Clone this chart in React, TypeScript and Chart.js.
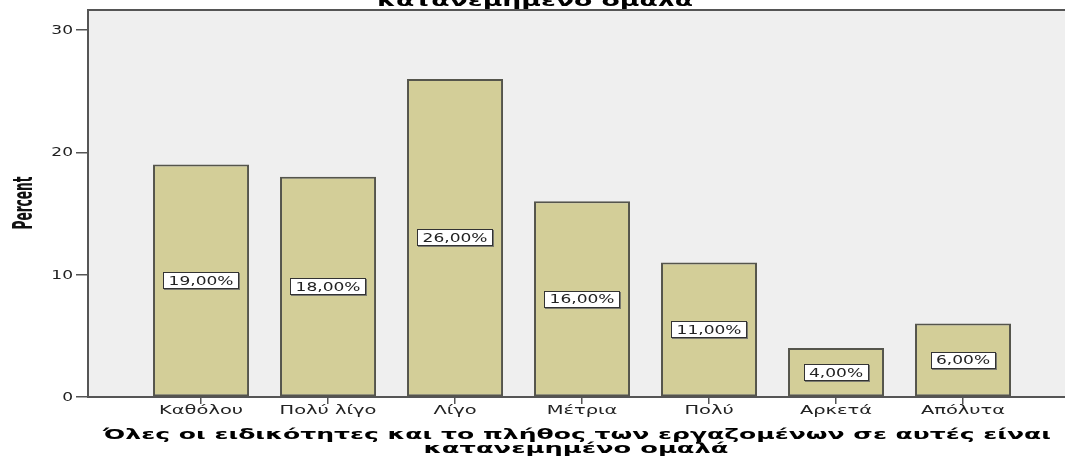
import React, { useEffect, useRef } from "react";
import { Chart, registerables } from "chart.js";

Chart.register(...registerables);

const categories = ["Καθόλου", "Πολύ λίγο", "Λίγο", "Μέτρια", "Πολύ", "Αρκετά", "Απόλυτα"];
const percentValues = [19, 18, 26, 16, 11, 4, 6];
const yTickValues = [0, 10, 20, 30];
const yAxisTitle = "Percent";
const xAxisTitleLines = [
  "Όλες οι ειδικότητες και το πλήθος των εργαζομένων σε αυτές είναι",
  "κατανεμημένο ομαλά",
];
const topTitleTail = "κατανεμημένο ομαλά";

const TEXT_SX = 1.42;
const XTICK_SX = 1.62;
const TICK_FONT = '12px "DejaVu Sans", sans-serif';
const TITLE_FONT = 'bold 14px "DejaVu Sans", sans-serif';

function drawScaled(
  ctx: CanvasRenderingContext2D,
  text: string,
  x: number,
  y: number,
  font: string,
  sx: number,
  align: CanvasTextAlign,
  baseline: CanvasTextBaseline,
  color: string,
  sy: number = 1
) {
  ctx.save();
  ctx.font = font;
  ctx.fillStyle = color;
  ctx.textAlign = align;
  ctx.textBaseline = baseline;
  ctx.translate(x, y);
  ctx.scale(sx, sy);
  ctx.fillText(text, 0, 0);
  ctx.restore();
}

function drawFitted(
  ctx: CanvasRenderingContext2D,
  text: string,
  cx: number,
  y: number,
  font: string,
  width: number,
  color: string,
  sy: number = 1
) {
  ctx.save();
  ctx.font = font;
  const w = ctx.measureText(text).width;
  ctx.restore();
  drawScaled(ctx, text, cx, y, font, width / w, "center", "alphabetic", color, sy);
}

const formatPct = (v: number) => v.toFixed(2).replace(".", ",") + "%";

const decorPlugin = {
  id: "decor",
  beforeDraw(chart: any) {
    const { ctx, chartArea } = chart;
    ctx.save();
    ctx.fillStyle = "#efefef";
    ctx.fillRect(chartArea.left, chartArea.top, chartArea.right - chartArea.left, chartArea.bottom - chartArea.top);
    ctx.restore();
  },
  afterDatasetsDraw(chart: any) {
    const { ctx } = chart;
    const meta = chart.getDatasetMeta(0);
    const yScale = chart.scales.y;
    meta.data.forEach((bar: any, i: number) => {
      const v = percentValues[i];
      const label = formatPct(v);
      const cy = yScale.getPixelForValue(v / 2);
      const cx = bar.x;
      ctx.save();
      ctx.font = TICK_FONT;
      const tw = ctx.measureText(label).width * TEXT_SX;
      const bw = Math.round(tw + 11);
      const bh = 17;
      const bx = Math.round(cx - bw / 2);
      const by = Math.round(cy - bh / 2);
      ctx.fillStyle = "#7a7a70";
      ctx.fillRect(bx + 1, by + 1, bw, bh);
      ctx.fillStyle = "#ffffff";
      ctx.fillRect(bx, by, bw, bh);
      ctx.strokeStyle = "#333333";
      ctx.lineWidth = 1;
      ctx.strokeRect(bx + 0.5, by + 0.5, bw - 1, bh - 1);
      ctx.restore();
      drawScaled(ctx, label, cx, cy + 1, TICK_FONT, TEXT_SX, "center", "middle", "#222222");
    });
  },
  afterDraw(chart: any) {
    const { ctx, chartArea } = chart;
    const xScale = chart.scales.x;
    const yScale = chart.scales.y;
    // top frame line
    ctx.save();
    ctx.strokeStyle = "#555555";
    ctx.lineWidth = 2;
    ctx.beginPath();
    ctx.moveTo(chartArea.left, chartArea.top);
    ctx.lineTo(chartArea.right, chartArea.top);
    ctx.stroke();
    ctx.restore();
    // x tick labels
    categories.forEach((c, i) => {
      drawScaled(ctx, c, xScale.getPixelForValue(i), 414, TICK_FONT, XTICK_SX, "center", "alphabetic", "#222222");
    });
    // y tick labels
    yTickValues.forEach((v) => {
      drawScaled(ctx, String(v), 73, yScale.getPixelForValue(v) + 1, TICK_FONT, TEXT_SX, "right", "middle", "#222222");
    });
    // y axis title (rotated)
    ctx.save();
    ctx.translate(32, 203);
    ctx.rotate(-Math.PI / 2);
    drawFitted(ctx, yAxisTitle, 0, 0, 'bold 19px "Liberation Sans Narrow", "DejaVu Sans Condensed", sans-serif', 53, "#111111", 1.4);
    ctx.restore();
    // x axis title
    drawFitted(ctx, xAxisTitleLines[0], 577, 439, TITLE_FONT, 948, "#000000");
    drawFitted(ctx, xAxisTitleLines[1], 576, 453, TITLE_FONT, 305, "#000000");
    // cut-off chart title at top
    drawFitted(ctx, topTitleTail, 535, 6, 'bold 15px "DejaVu Sans", sans-serif', 316, "#000000");
  },
};

export default function App() {
  const canvasRef = useRef<HTMLCanvasElement | null>(null);

  useEffect(() => {
    const canvas = canvasRef.current;
    if (!canvas) return;
    const chart = new Chart(canvas, {
      type: "bar",
      data: {
        datasets: [
          {
            data: percentValues.map((v, i) => ({ x: i, y: v })),
            backgroundColor: "#d3ce98",
            borderColor: "#55554c",
            borderWidth: 2,
            borderSkipped: false,
            barPercentage: 0.756,
            categoryPercentage: 1,
          },
        ],
      },
      options: {
        responsive: false,
        animation: false,
        events: [],
        layout: { padding: { top: 10, left: 0, right: 0, bottom: 0 } },
        plugins: {
          legend: { display: false },
          title: { display: false },
          tooltip: { enabled: false },
        },
        scales: {
          x: {
            type: "linear",
            min: -0.89,
            max: 6.803,
            offset: false,
            afterBuildTicks: (scale: any) => {
              scale.ticks = categories.map((_, i) => ({ value: i }));
            },
            afterFit: (scale: any) => {
              scale.height = 60;
            },
            ticks: { display: false },
            grid: {
              display: true,
              offset: false,
              drawOnChartArea: false,
              drawTicks: true,
              tickLength: 7,
              color: "#555555",
              lineWidth: 1.5,
            },
            border: { display: true, color: "#555555", width: 2 },
          },
          y: {
            type: "linear",
            min: 0,
            max: 31.64,
            afterBuildTicks: (scale: any) => {
              scale.ticks = yTickValues.map((v) => ({ value: v }));
            },
            afterFit: (scale: any) => {
              scale.width = 88;
            },
            ticks: { display: false },
            grid: {
              display: true,
              drawOnChartArea: false,
              drawTicks: true,
              tickLength: 12,
              color: "#555555",
              lineWidth: 1.5,
            },
            border: { display: true, color: "#555555", width: 2 },
          },
        },
      },
      plugins: [decorPlugin],
    });
    return () => chart.destroy();
  }, []);

  return (
    <div style={{ position: "absolute", left: 0, top: 0, width: 1065, height: 457, background: "#ffffff" }}>
      <canvas ref={canvasRef} width={1065} height={457} style={{ display: "block" }} />
    </div>
  );
}
